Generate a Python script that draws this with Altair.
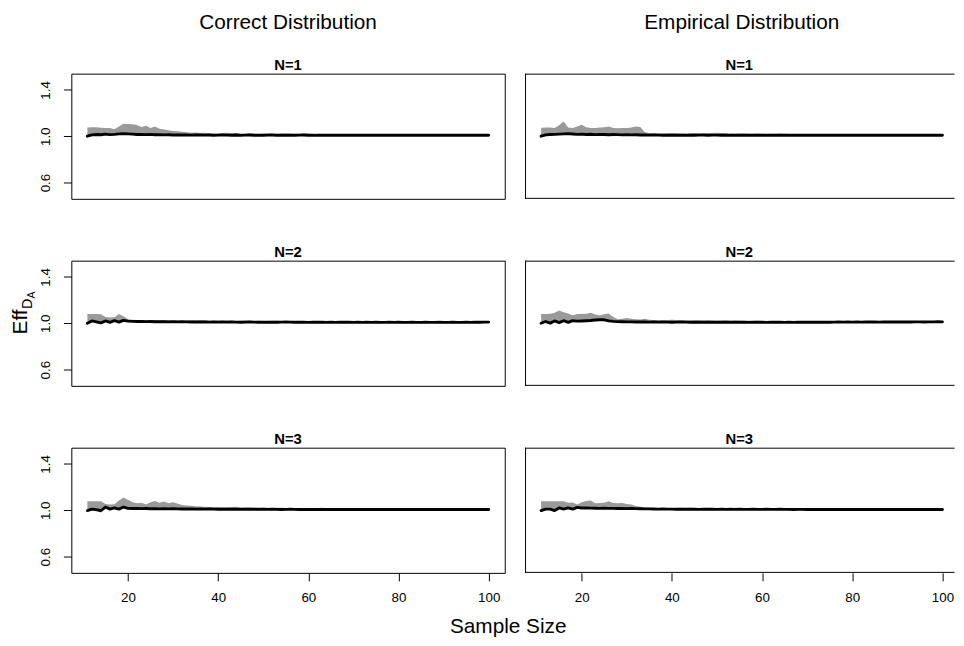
import altair as alt
import pandas as pd

FONT = "Liberation Sans"

SIZES = list(range(11, 101))

TL_MEAN = [1.000, 1.012, 1.015, 1.013, 1.018, 1.014, 1.016, 1.020, 1.022, 1.020,
           1.018, 1.015, 1.016, 1.014, 1.016, 1.013, 1.014, 1.012, 1.013, 1.011,
           1.012, 1.011, 1.012, 1.010, 1.011, 1.012, 1.010, 1.011, 1.009, 1.010,
           1.011, 1.010, 1.009, 1.011, 1.008, 1.010, 1.011, 1.009, 1.010, 1.009,
           1.010, 1.011, 1.009, 1.010, 1.008, 1.010, 1.009, 1.010, 1.011, 1.009,
           1.010, 1.008, 1.009, 1.010, 1.009, 1.008, 1.009, 1.010, 1.009, 1.008,
           1.009, 1.008, 1.009, 1.008, 1.009, 1.010, 1.009, 1.008, 1.009, 1.008,
           1.009, 1.008, 1.009, 1.008, 1.008, 1.009, 1.008, 1.009, 1.008, 1.009,
           1.008, 1.009, 1.008, 1.008, 1.009, 1.008, 1.008, 1.009, 1.008, 1.008]
TL_UPPER = [1.075, 1.078, 1.077, 1.074, 1.072, 1.072, 1.060, 1.085, 1.108, 1.105,
            1.104, 1.098, 1.080, 1.090, 1.072, 1.085, 1.065, 1.058, 1.052, 1.045,
            1.042, 1.038, 1.035, 1.030, 1.032, 1.028, 1.030, 1.026, 1.022, 1.024,
            1.028, 1.030, 1.026, 1.027, 1.024, 1.022, 1.025, 1.022, 1.020, 1.022,
            1.025, 1.022, 1.020, 1.023, 1.027, 1.024, 1.020, 1.022, 1.024, 1.022,
            1.019, 1.021, 1.020, 1.018, 1.020, 1.019, 1.017, 1.018, 1.016, 1.018,
            1.017, 1.016, 1.018, 1.017, 1.016, 1.017, 1.018, 1.016, 1.017, 1.016,
            1.017, 1.016, 1.015, 1.017, 1.016, 1.015, 1.016, 1.017, 1.015, 1.016,
            1.015, 1.016, 1.015, 1.016, 1.015, 1.014, 1.015, 1.016, 1.015, 1.014]

TR_MEAN = [1.000, 1.012, 1.015, 1.016, 1.018, 1.020, 1.022, 1.019, 1.016, 1.018,
           1.015, 1.017, 1.014, 1.016, 1.015, 1.013, 1.015, 1.014, 1.012, 1.013,
           1.012, 1.013, 1.011, 1.012, 1.010, 1.011, 1.010, 1.009, 1.010, 1.009,
           1.010, 1.009, 1.008, 1.010, 1.009, 1.010, 1.011, 1.009, 1.010, 1.010,
           1.009, 1.010, 1.008, 1.009, 1.010, 1.009, 1.008, 1.009, 1.010, 1.009,
           1.008, 1.009, 1.010, 1.009, 1.008, 1.009, 1.008, 1.009, 1.010, 1.009,
           1.008, 1.009, 1.008, 1.009, 1.008, 1.009, 1.008, 1.008, 1.009, 1.008,
           1.009, 1.008, 1.008, 1.009, 1.008, 1.008, 1.009, 1.008, 1.008, 1.009,
           1.008, 1.008, 1.009, 1.008, 1.008, 1.008, 1.009, 1.008, 1.008, 1.008]
TR_UPPER = [1.074, 1.076, 1.075, 1.072, 1.095, 1.128, 1.075, 1.072, 1.085, 1.100,
            1.078, 1.072, 1.070, 1.075, 1.078, 1.085, 1.070, 1.068, 1.072, 1.070,
            1.075, 1.083, 1.080, 1.035, 1.028, 1.025, 1.026, 1.024, 1.025, 1.027,
            1.026, 1.024, 1.023, 1.025, 1.027, 1.026, 1.024, 1.025, 1.028, 1.030,
            1.027, 1.025, 1.024, 1.022, 1.023, 1.024, 1.022, 1.021, 1.023, 1.022,
            1.020, 1.021, 1.022, 1.024, 1.021, 1.020, 1.019, 1.020, 1.019, 1.018,
            1.019, 1.018, 1.019, 1.020, 1.018, 1.017, 1.018, 1.017, 1.016, 1.017,
            1.016, 1.017, 1.016, 1.015, 1.016, 1.017, 1.016, 1.015, 1.016, 1.015,
            1.016, 1.015, 1.014, 1.015, 1.016, 1.015, 1.014, 1.015, 1.014, 1.015]

ML_MEAN = [1.000, 1.020, 1.012, 1.003, 1.020, 1.008, 1.022, 1.010, 1.025, 1.018,
           1.016, 1.015, 1.016, 1.014, 1.015, 1.013, 1.014, 1.013, 1.012, 1.013,
           1.012, 1.013, 1.012, 1.011, 1.012, 1.011, 1.012, 1.010, 1.011, 1.010,
           1.011, 1.010, 1.011, 1.010, 1.009, 1.010, 1.011, 1.010, 1.009, 1.010,
           1.009, 1.010, 1.009, 1.010, 1.011, 1.010, 1.009, 1.010, 1.009, 1.008,
           1.009, 1.010, 1.009, 1.008, 1.009, 1.008, 1.009, 1.010, 1.009, 1.008,
           1.009, 1.008, 1.009, 1.008, 1.009, 1.008, 1.008, 1.009, 1.008, 1.009,
           1.008, 1.008, 1.009, 1.008, 1.008, 1.009, 1.008, 1.008, 1.009, 1.008,
           1.008, 1.009, 1.008, 1.008, 1.009, 1.008, 1.009, 1.009, 1.010, 1.010]
ML_UPPER = [1.080, 1.080, 1.079, 1.078, 1.055, 1.050, 1.052, 1.080, 1.060, 1.035,
            1.030, 1.028, 1.027, 1.026, 1.024, 1.025, 1.026, 1.028, 1.025, 1.023,
            1.024, 1.022, 1.023, 1.025, 1.024, 1.026, 1.025, 1.022, 1.021, 1.023,
            1.022, 1.024, 1.022, 1.020, 1.021, 1.023, 1.022, 1.020, 1.021, 1.020,
            1.019, 1.021, 1.022, 1.020, 1.019, 1.020, 1.018, 1.019, 1.018, 1.017,
            1.018, 1.017, 1.016, 1.018, 1.017, 1.016, 1.017, 1.015, 1.016, 1.015,
            1.016, 1.015, 1.014, 1.016, 1.015, 1.014, 1.015, 1.016, 1.015, 1.014,
            1.015, 1.014, 1.015, 1.016, 1.015, 1.014, 1.015, 1.014, 1.015, 1.014,
            1.015, 1.014, 1.015, 1.014, 1.015, 1.016, 1.015, 1.015, 1.016, 1.016]

MR_MEAN = [1.000, 1.015, 1.001, 1.020, 1.005, 1.022, 1.008, 1.022, 1.018, 1.020,
           1.022, 1.024, 1.028, 1.030, 1.030, 1.020, 1.016, 1.014, 1.013, 1.012,
           1.012, 1.011, 1.012, 1.011, 1.010, 1.011, 1.010, 1.011, 1.010, 1.009,
           1.010, 1.011, 1.010, 1.009, 1.010, 1.009, 1.010, 1.009, 1.010, 1.009,
           1.010, 1.009, 1.008, 1.009, 1.010, 1.009, 1.008, 1.009, 1.010, 1.009,
           1.008, 1.009, 1.010, 1.009, 1.008, 1.009, 1.008, 1.009, 1.010, 1.009,
           1.009, 1.010, 1.009, 1.010, 1.009, 1.010, 1.011, 1.010, 1.011, 1.010,
           1.011, 1.010, 1.011, 1.012, 1.011, 1.010, 1.011, 1.012, 1.011, 1.012,
           1.011, 1.012, 1.011, 1.012, 1.012, 1.011, 1.012, 1.012, 1.013, 1.012]
MR_UPPER = [1.080, 1.080, 1.082, 1.090, 1.110, 1.095, 1.085, 1.070, 1.080, 1.080,
            1.082, 1.090, 1.075, 1.070, 1.078, 1.085, 1.055, 1.035, 1.038, 1.045,
            1.038, 1.035, 1.033, 1.038, 1.030, 1.028, 1.027, 1.026, 1.028, 1.030,
            1.028, 1.026, 1.025, 1.024, 1.026, 1.025, 1.023, 1.025, 1.024, 1.022,
            1.023, 1.025, 1.027, 1.024, 1.022, 1.021, 1.022, 1.020, 1.021, 1.020,
            1.019, 1.020, 1.019, 1.018, 1.019, 1.020, 1.018, 1.017, 1.018, 1.017,
            1.018, 1.017, 1.016, 1.017, 1.018, 1.017, 1.016, 1.017, 1.016, 1.017,
            1.018, 1.017, 1.016, 1.017, 1.018, 1.017, 1.016, 1.017, 1.018, 1.017,
            1.016, 1.017, 1.018, 1.017, 1.018, 1.017, 1.018, 1.019, 1.018, 1.018]

BL_MEAN = [0.998, 1.010, 1.005, 0.996, 1.028, 1.010, 1.020, 1.010, 1.028, 1.016,
           1.015, 1.016, 1.014, 1.015, 1.013, 1.014, 1.012, 1.013, 1.012, 1.013,
           1.012, 1.011, 1.012, 1.011, 1.010, 1.011, 1.010, 1.011, 1.010, 1.009,
           1.010, 1.009, 1.010, 1.009, 1.008, 1.009, 1.010, 1.009, 1.008, 1.009,
           1.008, 1.009, 1.008, 1.007, 1.008, 1.009, 1.008, 1.007, 1.008, 1.007,
           1.008, 1.007, 1.008, 1.007, 1.007, 1.008, 1.007, 1.008, 1.007, 1.007,
           1.008, 1.007, 1.007, 1.008, 1.007, 1.007, 1.008, 1.007, 1.007, 1.007,
           1.008, 1.007, 1.007, 1.007, 1.008, 1.007, 1.007, 1.007, 1.008, 1.007,
           1.007, 1.007, 1.007, 1.008, 1.007, 1.007, 1.007, 1.007, 1.007, 1.007]
BL_UPPER = [1.077, 1.077, 1.078, 1.077, 1.055, 1.050, 1.052, 1.085, 1.110, 1.090,
            1.070, 1.060, 1.065, 1.050, 1.070, 1.080, 1.065, 1.075, 1.060, 1.070,
            1.058, 1.045, 1.042, 1.040, 1.035, 1.032, 1.030, 1.028, 1.029, 1.027,
            1.026, 1.027, 1.028, 1.030, 1.027, 1.025, 1.024, 1.022, 1.023, 1.022,
            1.021, 1.020, 1.022, 1.021, 1.020, 1.019, 1.020, 1.018, 1.019, 1.018,
            1.019, 1.020, 1.021, 1.019, 1.018, 1.017, 1.018, 1.016, 1.017, 1.016,
            1.015, 1.016, 1.015, 1.014, 1.015, 1.016, 1.015, 1.014, 1.015, 1.014,
            1.015, 1.014, 1.015, 1.014, 1.015, 1.014, 1.015, 1.014, 1.013, 1.014,
            1.015, 1.014, 1.013, 1.014, 1.013, 1.014, 1.013, 1.014, 1.013, 1.013]

BR_MEAN = [0.997, 1.010, 1.010, 0.998, 1.020, 1.010, 1.020, 1.010, 1.025, 1.020,
           1.020, 1.019, 1.018, 1.017, 1.018, 1.016, 1.017, 1.015, 1.016, 1.014,
           1.015, 1.014, 1.013, 1.012, 1.012, 1.011, 1.010, 1.011, 1.010, 1.010,
           1.009, 1.010, 1.009, 1.010, 1.009, 1.008, 1.009, 1.010, 1.009, 1.008,
           1.009, 1.008, 1.009, 1.008, 1.009, 1.008, 1.008, 1.009, 1.008, 1.008,
           1.009, 1.008, 1.008, 1.009, 1.008, 1.008, 1.007, 1.008, 1.008, 1.007,
           1.008, 1.007, 1.008, 1.007, 1.008, 1.007, 1.007, 1.008, 1.007, 1.007,
           1.008, 1.007, 1.007, 1.008, 1.007, 1.007, 1.008, 1.007, 1.007, 1.007,
           1.008, 1.007, 1.007, 1.007, 1.008, 1.007, 1.007, 1.007, 1.008, 1.007]
BR_UPPER = [1.077, 1.078, 1.077, 1.078, 1.077, 1.077, 1.065, 1.068, 1.050, 1.070,
            1.080, 1.085, 1.060, 1.062, 1.065, 1.077, 1.062, 1.060, 1.063, 1.055,
            1.050, 1.036, 1.030, 1.025, 1.022, 1.020, 1.019, 1.018, 1.019, 1.020,
            1.020, 1.021, 1.020, 1.022, 1.019, 1.018, 1.017, 1.018, 1.017, 1.016,
            1.017, 1.016, 1.017, 1.018, 1.017, 1.016, 1.017, 1.016, 1.015, 1.016,
            1.015, 1.016, 1.015, 1.014, 1.015, 1.016, 1.015, 1.014, 1.015, 1.014,
            1.015, 1.014, 1.013, 1.014, 1.015, 1.014, 1.013, 1.014, 1.013, 1.014,
            1.013, 1.014, 1.013, 1.014, 1.013, 1.012, 1.013, 1.014, 1.013, 1.012,
            1.013, 1.012, 1.013, 1.012, 1.013, 1.012, 1.013, 1.012, 1.013, 1.012]

COLUMN_TITLES = ["Correct Distribution", "Empirical Distribution"]
PANEL_TITLES = ["N=1", "N=2", "N=3"]
X_TICKS = [20, 40, 60, 80, 100]
Y_TICKS = [0.6, 0.8, 1.0, 1.2, 1.4]
X_LABEL = "Sample Size"

SERIES = [
    [(TL_MEAN, TL_UPPER), (TR_MEAN, TR_UPPER)],
    [(ML_MEAN, ML_UPPER), (MR_MEAN, MR_UPPER)],
    [(BL_MEAN, BL_UPPER), (BR_MEAN, BR_UPPER)],
]

H = 126.5
W_L = 438
W_R = 433
PX_PER_UNIT = W_L / (103.56 - 7.44)
X_DOM_L = [7.44, 103.56]
X_DOM_R = [7.44, 7.44 + W_R / PX_PER_UNIT]
Y_DOM = [0.46, 1.54]
OUTER_FS = 21
TICK_FS = 13.5


def txt(label, size, weight="normal", angle=0, align="center", baseline="alphabetic"):
    return alt.Chart(pd.DataFrame({"t": [label]})).mark_text(
        font=FONT, fontSize=size, fontWeight=weight, color="black",
        angle=angle, align=align, baseline=baseline,
    )


def one_rule(color="black", **enc):
    return alt.Chart(pd.DataFrame({"t": [0]})).mark_rule(color=color, strokeWidth=1).encode(**enc)


def panel(row, col):
    mean, upper = SERIES[row][col]
    df = pd.DataFrame({"x": SIZES, "mean": mean, "upper": upper})
    width = W_L if col == 0 else W_R
    dom = X_DOM_L if col == 0 else X_DOM_R
    if row == 2:
        xaxis = alt.Axis(values=X_TICKS, grid=False, domain=False, tickSize=8,
                         tickColor="black", labelColor="black", labelFont=FONT,
                         labelFontSize=TICK_FS, labelPadding=10, title=None,
                         labelFlush=False, labelOverlap=False)
    else:
        xaxis = None
    if col == 0:
        yaxis = alt.Axis(values=Y_TICKS, grid=False, domain=False, tickSize=8,
                         tickColor="black", labelColor="black", labelFont=FONT,
                         labelFontSize=TICK_FS, labelAngle=270, labelAlign="center",
                         labelBaseline="bottom", labelPadding=11.5, title=None,
                         labelFlush=False, labelOverlap=False,
                         labelExpr="datum.value == 0.8 || datum.value == 1.2 ? '' : format(datum.value, '.1f')")
    else:
        yaxis = None
    xenc = alt.X("x:Q", scale=alt.Scale(domain=dom, nice=False, zero=False), axis=xaxis)
    base = alt.Chart(df)
    area = base.mark_area(color="#9a9a9a", opacity=1).encode(
        x=xenc,
        y=alt.Y("mean:Q", scale=alt.Scale(domain=Y_DOM, nice=False, zero=False), axis=yaxis),
        y2="upper:Q",
    )
    line = base.mark_line(color="black", strokeWidth=2.9, strokeCap="round",
                          strokeJoin="round").encode(x=xenc, y="mean:Q")
    layers = [area, line]
    layers.append(txt(PANEL_TITLES[row], 15, "bold").encode(
        text="t:N", x=alt.value(width / 2), y=alt.value(-4)))
    if row == 0:
        cx = W_L / 2
        layers.append(txt(COLUMN_TITLES[col], OUTER_FS).encode(
            text="t:N", x=alt.value(cx), y=alt.value(-45)))
    if row == 0 and col == 0:
        # invisible anchor fixing the top-left corner of the drawing
        layers.append(one_rule(color="transparent", x=alt.value(-63), x2=alt.value(-60),
                               y=alt.value(-61.5)))
    if col == 1:
        layers.append(one_rule(x=alt.value(0), x2=alt.value(width + 1), y=alt.value(0.5)))
        layers.append(one_rule(x=alt.value(0), x2=alt.value(width + 1), y=alt.value(H - 0.5)))
        layers.append(one_rule(x=alt.value(0.5), y=alt.value(0), y2=alt.value(H)))
    if row == 1 and col == 0:
        layers.append(txt("Eff", OUTER_FS, angle=270, align="left").encode(
            text="t:N", x=alt.value(-44.5), y=alt.value(74.5)))
        layers.append(txt("D", 14.5, angle=270, align="left").encode(
            text="t:N", x=alt.value(-39.5), y=alt.value(48.8)))
        layers.append(txt("A", 10.5, angle=270, align="left").encode(
            text="t:N", x=alt.value(-36.5), y=alt.value(38.3)))
    if row == 2 and col == 0:
        layers.append(txt(X_LABEL, OUTER_FS).encode(
            text="t:N", x=alt.value(441.5), y=alt.value(187)))
    view = alt.ViewBackground(stroke="black", strokeWidth=1) if col == 0 else \
        alt.ViewBackground(stroke="transparent")
    return alt.layer(*layers).properties(width=width, height=H, view=view)


panels = [panel(r, c) for r in range(3) for c in range(2)]
chart = alt.concat(*panels, columns=2, spacing={"row": 62, "column": 20.5},
                   bounds="flush").properties(padding=0).configure(background="white")

chart.save("out.html", embed_options={"renderer": "svg", "actions": False})
